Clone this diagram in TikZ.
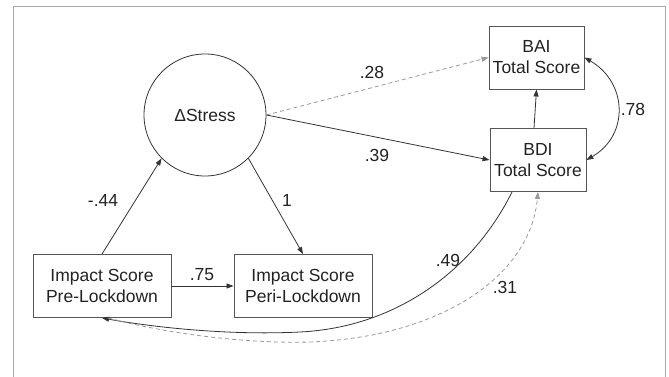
\documentclass[tikz,border=0pt]{standalone}
\usepackage{fontspec}
\setmainfont{Liberation Sans}
\usetikzlibrary{arrows.meta}
\definecolor{ink}{HTML}{222222}
\definecolor{edge}{HTML}{333333}
\definecolor{boxline}{HTML}{555555}
\definecolor{dash}{HTML}{999999}
\definecolor{framec}{HTML}{AAAAAA}

\begin{document}
\begin{tikzpicture}[x=1pt,y=1pt,
	font=\fontsize{17.5}{21}\selectfont, text=ink,
	var/.style={rectangle, draw=boxline, line width=0.9pt, align=center, minimum height=63pt},
	latent/.style={circle, draw=edge, line width=0.8pt, minimum size=122pt},
	path/.style={draw=edge, line width=0.8pt, -{Triangle[length=7pt,width=5pt]}},
	ns/.style={path, draw=dash, dashed, dash pattern=on 4pt off 3pt, -{Triangle[length=7pt,width=5pt,fill=dash]}},
	coef/.style={inner sep=1pt}]
\useasboundingbox (0,0) rectangle (669,377);
\draw[framec, line width=1pt] (13,0) -- (13,370) -- (665,370) -- (665,0);

\node [latent] (stress) at (205,262) {ΔStress};
\node [var, minimum width=95pt] (bai) at (536.5,319.5) {BAI\\Total Score};
\node [var, minimum width=96pt] (bdi) at (538,217) {BDI\\Total Score};
\node [var, minimum width=138pt] (pre) at (102,91) {Impact Score\\Pre-Lockdown};
\node [var, minimum width=138pt] (peri) at (303,91) {Impact Score\\Peri-Lockdown};

\draw [path] (pre.north) -- (stress.225);
\draw [path] (stress.-45) -- (peri.north);
\draw [path] (pre.east) -- (peri.west);
\draw [ns] (stress.east) -- (bai.west);
\draw [path] (stress.east) -- (bdi.west);
\draw [path] ([xshift=-4pt]bdi.north) -- (bai.south);
\draw [path, {Triangle[length=7pt,width=5pt]}-{Triangle[length=7pt,width=5pt]}]
	(bai.east) .. controls +(43,-25) and +(43,25) .. (bdi.east);
\draw [path] ([xshift=-26pt]bdi.south) .. controls (475,110) and (400,50) .. (300,45)
	.. controls (220,41) and (140,52) .. (pre.south);
\draw [ns] ([xshift=6pt]pre.south) .. controls (160,45) and (240,33) .. (310,35)
	.. controls (440,40) and (530,100) .. (bdi.south);

\node [coef] (c28) at (372,305) {.28};
\node [coef] (c39) at (377,222) {.39};
\node [coef] (c78) at (633,268) {.78};
\node [coef] (c44) at (103,177) {-.44};
\node [coef] (c1) at (287,177) {1};
\node [coef] (c75) at (202,102) {.75};
\node [coef] (c49) at (448,117) {.49};
\node [coef] (c31) at (505,90) {.31};
\end{tikzpicture}
\end{document}
